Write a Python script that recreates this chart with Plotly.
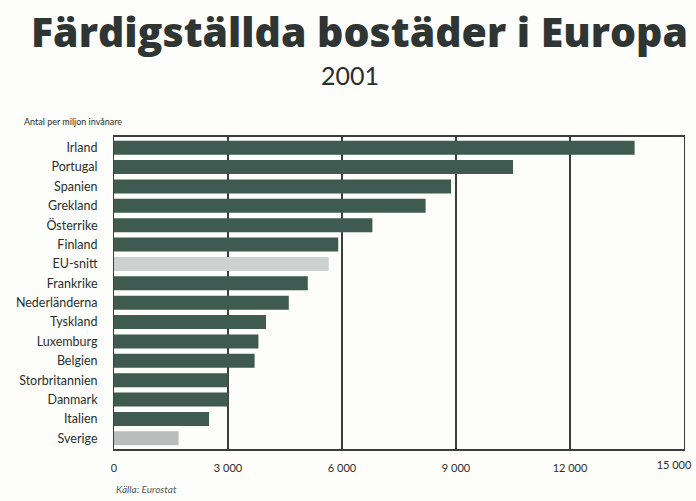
import plotly.graph_objects as go

countries = ["Irland", "Portugal", "Spanien", "Grekland", "Österrike", "Finland",
             "EU-snitt", "Frankrike", "Nederländerna", "Tyskland", "Luxemburg",
             "Belgien", "Storbritannien", "Danmark", "Italien", "Sverige"]
values = [13700, 10500, 8870, 8200, 6800, 5900, 5650, 5100, 4600, 4000, 3800,
          3700, 3000, 3000, 2500, 1700]
tick_vals = [0, 3000, 6000, 9000, 12000, 15000]
tick_text = ["0", "3 000", "6 000", "9 000", "12 000", "15 000"]

DARK = "#3e5a51"
colors = []
for c in countries:
    if c == "EU-snitt":
        colors.append("#cdd1cf")
    elif c == "Sverige":
        colors.append("#b9bdbb")
    else:
        colors.append(DARK)

fig = go.Figure(go.Bar(
    x=values, y=countries, orientation="h",
    marker=dict(color=colors, line=dict(width=0)),
    width=0.72,
))
# helper (empty) trace so the overlay axis carrying the last tick label is drawn
fig.add_trace(go.Scatter(x=[], y=[], xaxis="x2", yaxis="y", showlegend=False, hoverinfo="skip"))

L, T, W, H = 114, 137, 570, 312
XMAX = tick_vals[-1]

fig.update_layout(
    width=696, height=501,
    margin=dict(l=L, r=12, t=T, b=52, autoexpand=False),
    paper_bgcolor="#fdfdfc", plot_bgcolor="#fdfdfc",
    showlegend=False,
    font=dict(family="Lato, Open Sans, sans-serif", color="#2a2f2d"),
    xaxis=dict(range=[0, XMAX], tickvals=tick_vals, ticktext=tick_text[:-1] + [""],
               showgrid=True, gridcolor="#3a3f3d", gridwidth=1.5,
               showline=True, linecolor="#3a3f3d", linewidth=1.5, mirror=True,
               zeroline=False, ticks="", tickfont=dict(size=11), ticklabelstandoff=8,
               automargin=False),
    xaxis2=dict(range=[0, XMAX], overlaying="x", side="bottom", anchor="y",
                tickvals=tick_vals[-1:], ticktext=tick_text[-1:],
                showgrid=False, showline=False, zeroline=False, ticks="",
                tickfont=dict(size=11), ticklabelstandoff=8, ticklabelshift=-10,
                ticklabeloverflow="allow", automargin=False),
    yaxis=dict(categoryorder="array", categoryarray=countries[::-1],
               showline=True, linecolor="#3a3f3d", linewidth=1, mirror=True,
               ticks="", tickfont=dict(size=12.5), ticklabelstandoff=13,
               range=[-0.55, 15.55], automargin=False),
)

fig.add_annotation(text="Färdigställda bostäder i Europa", xref="paper", yref="paper",
                   x=(359 - L) / W, y=1 + (T - 31) / H, xanchor="center", yanchor="middle",
                   showarrow=False,
                   font=dict(size=41, family="Open Sans, sans-serif", weight=800, color="#2e3532"))
fig.add_annotation(text="2001", xref="paper", yref="paper",
                   x=(350 - L) / W, y=1 + (T - 75) / H, xanchor="center", yanchor="middle",
                   showarrow=False, font=dict(size=25, family="Lato, sans-serif", color="#2a2f2d"))
fig.add_annotation(text="Antal per miljon invånare", xref="paper", yref="paper",
                   x=(22 - L) / W, y=1 + (T - 122) / H, xanchor="left", yanchor="middle",
                   showarrow=False, font=dict(size=9, color="#2a2f2d"))
fig.add_annotation(text="<i>Källa: Eurostat</i>", xref="paper", yref="paper",
                   x=0, y=-(489 - (T + H)) / H, xanchor="left", yanchor="middle",
                   showarrow=False, font=dict(size=10, color="#555b59"))

fig.write_html("out.html")
